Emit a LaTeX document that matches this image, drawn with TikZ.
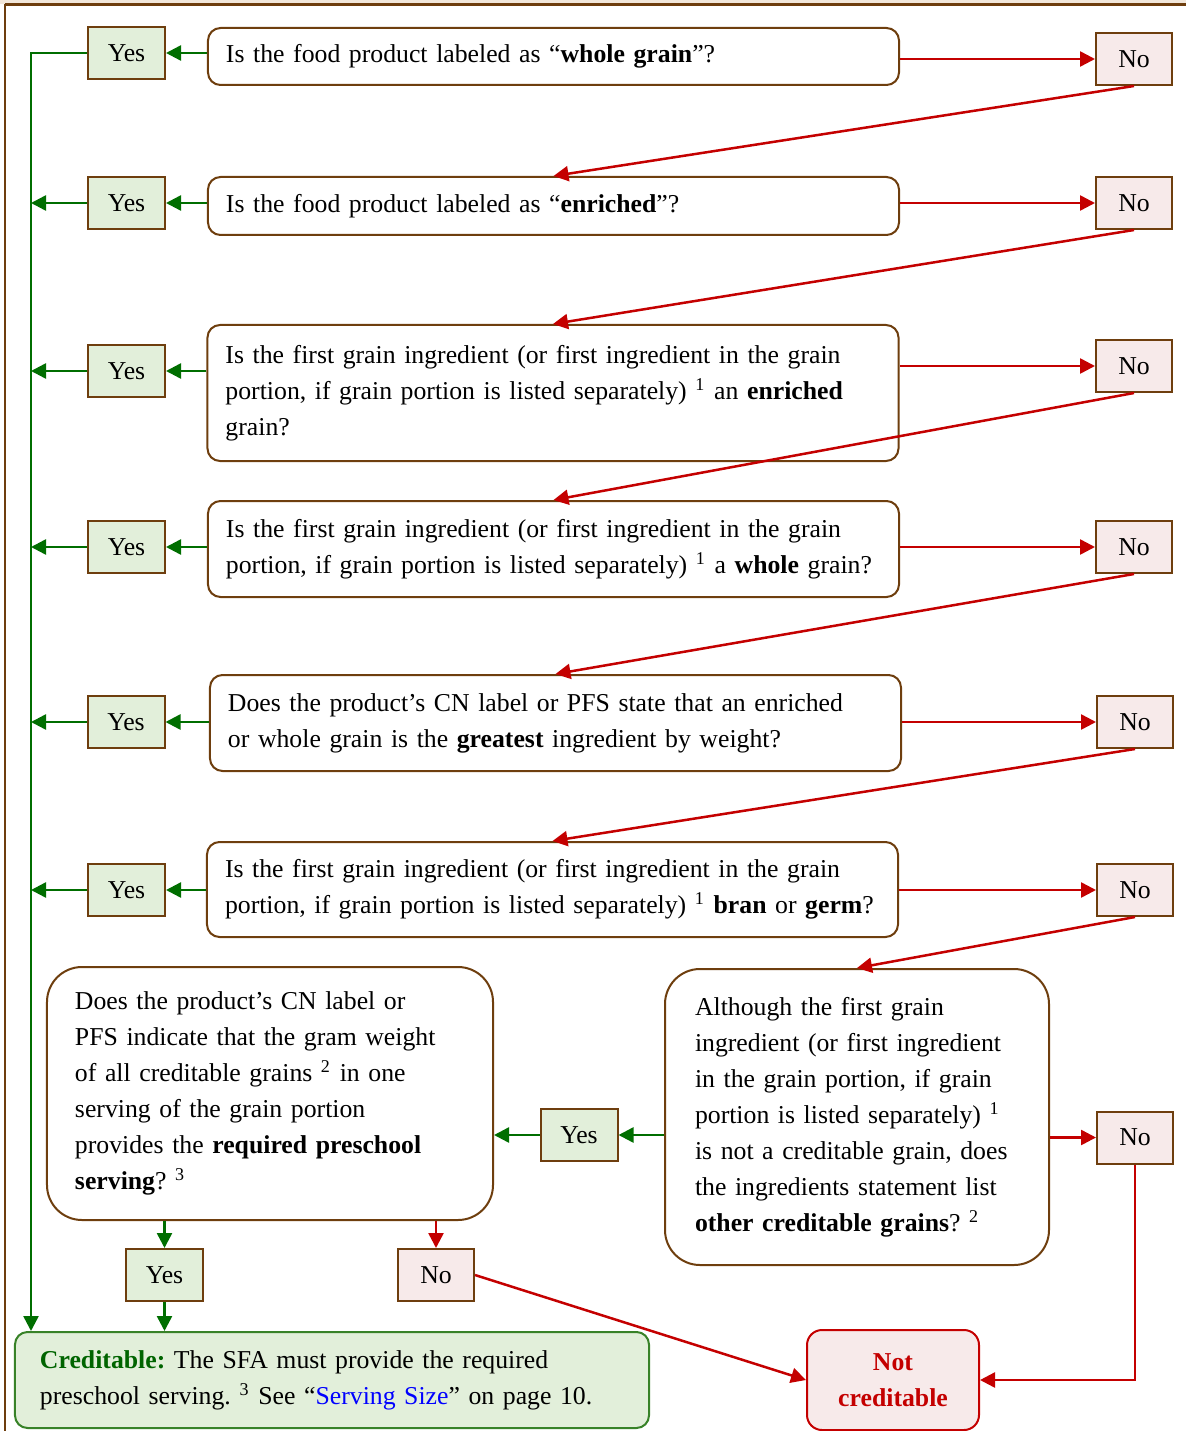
\documentclass[tikz,border=0pt]{standalone}
\usepackage{fontspec}
\setmainfont{Liberation Serif}
\usetikzlibrary{arrows.meta}

\definecolor{boxbrown}{RGB}{110,62,14}
\definecolor{bandbeige}{RGB}{242,231,218}
\definecolor{yesfill}{RGB}{226,239,218}
\definecolor{nofill}{RGB}{247,234,234}
\definecolor{yesgreen}{RGB}{0,110,0}
\definecolor{nored}{RGB}{196,0,0}
\definecolor{credline}{RGB}{56,130,40}
\definecolor{credtext}{RGB}{0,100,0}
\definecolor{linkblue}{RGB}{0,0,255}

\newcommand{\qfont}{\fontsize{10.3}{14.4}\selectfont\frenchspacing}

\begin{document}
\begin{tikzpicture}[x=0.4pt,y=-0.4pt]
\tikzset{qbox/.style={draw=boxbrown,line width=0.8pt,rounded corners=5pt,fill=white,
                      align=left,text width=262pt,inner xsep=7.2pt,inner ysep=0pt,font=\qfont}}
\tikzset{yesbox/.style={draw=boxbrown,line width=0.8pt,fill=yesfill,minimum width=30.8pt,
                        minimum height=20.8pt,inner sep=0pt,font=\qfont}}
\tikzset{nobox/.style={draw=boxbrown,line width=0.8pt,fill=nofill,minimum width=30.4pt,
                       minimum height=20.8pt,inner sep=0pt,font=\qfont}}
\tikzset{yesarrow/.style={draw=yesgreen,line width=1pt,-{Triangle[length=6pt,width=6pt]}}}
\tikzset{noarrow/.style={draw=nored,line width=1pt,-{Triangle[length=6pt,width=6pt]}}}
%\tikzset{every node/.style={font=\small}}
\useasboundingbox (0,0) rectangle (1186,1431);
% page frame
\fill[bandbeige] (0,0) rectangle (1186,4);
\draw[boxbrown,line width=0.9pt] (5,4.5) -- (1186,4.5);
\draw[boxbrown,line width=0.9pt] (5,4.5) -- (5,1431);

% questions
\node[qbox,minimum height=22.8pt] (q1) at (553.5,56.5)
    {Is the food product labeled as “\textbf{whole grain}”?};
\node[qbox,minimum height=23.2pt] (q2) at (553.5,206)
    {Is the food product labeled as “\textbf{enriched}”?};
\node[qbox,minimum height=54.4pt] (q3) at (553,393)
    {Is the first grain ingredient (or first ingredient in the grain\\
     portion, if grain portion is listed separately) \textsuperscript{1} an \textbf{enriched}\\
     grain?};
\node[qbox,minimum height=38.4pt] (q4) at (553.5,549)
    {Is the first grain ingredient (or first ingredient in the grain\\
     portion, if grain portion is listed separately) \textsuperscript{1} a \textbf{whole} grain?};
\node[qbox,minimum height=38.4pt] (q5) at (555.5,723)
    {Does the product’s CN label or PFS state that an enriched\\
     or whole grain is the \textbf{greatest} ingredient by weight?};
\node[qbox,minimum height=38pt] (q6) at (552.5,889.5)
    {Is the first grain ingredient (or first ingredient in the grain\\
     portion, if grain portion is listed separately) \textsuperscript{1} \textbf{bran} or \textbf{germ}?};
\node[qbox,rounded corners=14pt,text width=156pt,inner xsep=11.2pt,minimum height=101.2pt]
    (q7) at (270,1093.5)
    {Does the product’s CN label or\\
     PFS indicate that the gram weight\\
     of all creditable grains \textsuperscript{2} in one\\
     serving of the grain portion\\
     provides the \textbf{required preschool}\\
     \textbf{serving}? \textsuperscript{3}};
\node[qbox,rounded corners=14pt,text width=129.6pt,inner xsep=12pt,minimum height=118.4pt]
    (q8) at (857,1117)
    {Although the first grain\\
     ingredient (or first ingredient\\
     in the grain portion, if grain\\
     portion is listed separately) \textsuperscript{1}\\
     is not a creditable grain, does\\
     the ingredients statement list\\
     \textbf{other creditable grains}? \textsuperscript{2}};

% answers
\node[yesbox] (yes1) at (126.5,53) {Yes};
\node[yesbox] (yes2) at (126.5,203) {Yes};
\node[yesbox] (yes3) at (126.5,371) {Yes};
\node[yesbox] (yes4) at (126.5,547) {Yes};
\node[yesbox] (yes5) at (126,722) {Yes};
\node[yesbox] (yes6) at (126.5,890) {Yes};
\node[yesbox] (yes7) at (579,1135) {Yes};
\node[yesbox] (yes8) at (164.5,1275) {Yes};
\node[nobox] (no1) at (1134,59) {No};
\node[nobox] (no2) at (1134,203) {No};
\node[nobox] (no3) at (1134,366) {No};
\node[nobox] (no4) at (1134,547) {No};
\node[nobox] (no5) at (1135,722) {No};
\node[nobox] (no6) at (1135,890) {No};
\node[nobox] (no7) at (1135,1137.5) {No};
\node[nobox] (no8) at (436,1275) {No};

% outcomes
\node[draw=credline,line width=0.8pt,fill=yesfill,rounded corners=5pt,align=left,
      text width=233.6pt,inner xsep=10pt,inner ysep=0pt,minimum height=38.4pt,font=\qfont]
    (cred) at (332,1380)
    {{\color{credtext}\textbf{Creditable:}} The SFA must provide the required\\
     preschool serving. \textsuperscript{3} See “{\color{linkblue}Serving Size}” on page 10.};
\node[draw=nored,line width=0.8pt,fill=nofill,rounded corners=6pt,align=center,
      minimum width=68.8pt,minimum height=40pt,inner sep=0pt,font=\qfont,text=nored]
    (notc) at (893,1380) {\textbf{Not}\\\textbf{creditable}};

% connectors
\coordinate (gl) at (31,53);
\draw[yesarrow] (yes1.west) -| (gl |- cred.north);
\foreach \i in {2,...,6} {
    \draw[yesarrow] (yes\i.west) -- (yes\i.west -| gl);
}
\foreach \i in {1,...,6} {
    \draw[yesarrow] (q\i.west |- yes\i) -- (yes\i.east);
    \draw[noarrow] (q\i.east |- no\i) -- (no\i.west);
}
\foreach \a/\b in {1/2,2/3,3/4,4/5,5/6} {
    \draw[noarrow] (no\a.south) -- (q\b.north);
}
\draw[noarrow] (no6.south) -- (q8.north);
\draw[yesarrow] (q8.west |- yes7) -- (yes7.east);
\draw[yesarrow] (yes7.west) -- (q7.east |- yes7);
\draw[noarrow] (q8.east |- no7) -- (no7.west);
\draw[noarrow] (no7.south) |- (notc.east);
\draw[yesarrow] (q7.south -| yes8) -- (yes8.north);
\draw[yesarrow] (yes8.south) -- (yes8 |- cred.north);
\draw[noarrow] (q7.south -| no8) -- (no8.north);
\draw[noarrow] (no8.east) -- (notc.west);
\end{tikzpicture}
\end{document}
